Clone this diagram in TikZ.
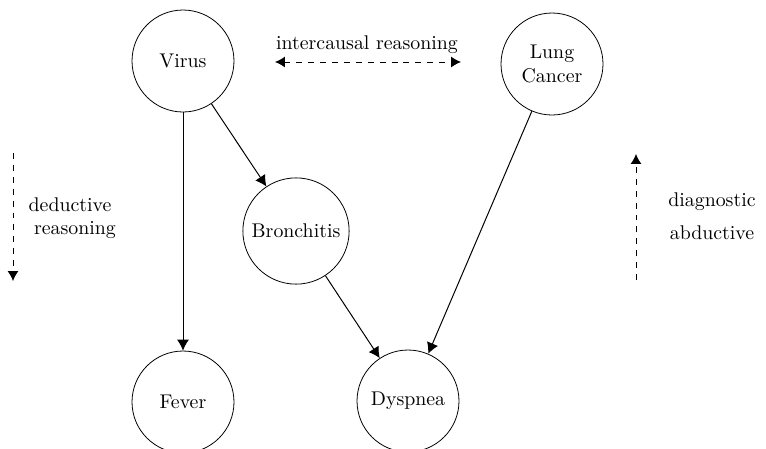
\documentclass[tikz,border=0pt]{standalone}
\usetikzlibrary{arrows.meta}
\begin{document}
\begin{tikzpicture}[x=0.504pt,y=-0.504pt,
  var/.style={draw,circle,minimum size=51.4pt,align=center,inner sep=3.5pt},
  link/.style={-{Latex[length=5.5pt,width=6pt]},line width=0.5pt},
  flow/.style={dashed,line width=0.5pt},
  flowtip/.tip={Latex[length=5pt,width=5.5pt]}]
\useasboundingbox (0,0) rectangle (766,448);

% variables of the network
\node[var] (virus) at (183,61) {Virus};
\node[var] (lung)  at (552,64) {Lung\\Cancer};
\node[var] (bron)  at (296,231) {Bronchitis};
\node[var] (fever) at (183,402) {Fever};
\node[var] (dysp)  at (408,401) {Dyspnea};

% causal links
\draw[link] (virus) -- (fever);
\draw[link] (virus) -- (bron);
\draw[link] (bron) -- (dysp);
\draw[link] (lung) -- (dysp);

% directions of reasoning
\coordinate (dedA) at (13,153);
\coordinate (dedB) at (13,281);
\draw[flow,-flowtip] (dedA) -- (dedB);
\node (ded1) at (70,205) {deductive};
\node (ded2) at (75,230) {reasoning};

\coordinate (diaA) at (636,280);
\coordinate (diaB) at (636,154);
\draw[flow,-flowtip] (diaA) -- (diaB);
\node (dia1) at (712,202) {diagnostic};
\node (dia2) at (712,233) {abductive};

\coordinate (icL) at (275,62);
\coordinate (icR) at (461,62);
\draw[flow,flowtip-flowtip] (icL) -- (icR);
\node (ic) at (367,45) {intercausal reasoning};
\end{tikzpicture}
\end{document}
